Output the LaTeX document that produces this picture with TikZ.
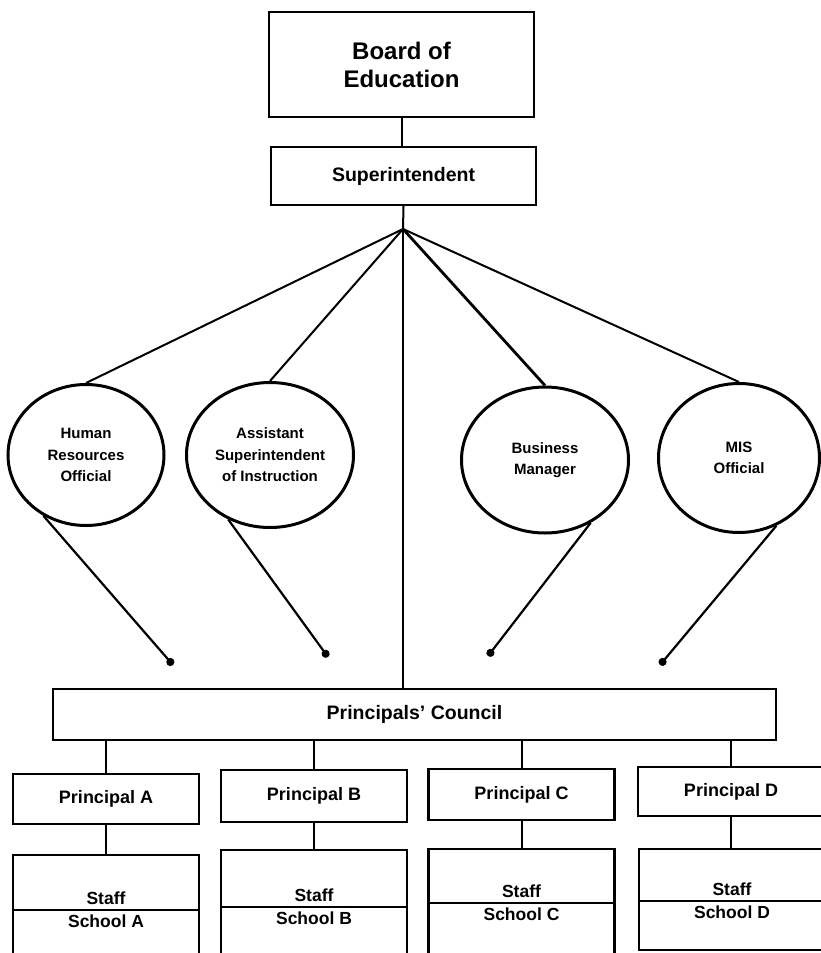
\documentclass[tikz,border=0pt]{standalone}
\usepackage{fontspec}
\setmainfont{Liberation Sans}
\usetikzlibrary{shapes.geometric,arrows.meta}
\begin{document}
\begin{tikzpicture}[x=1pt,y=-1pt,
  box/.style={draw, line width=2.2pt, rectangle, inner sep=0pt, font=\bfseries\fontsize{19.5}{23}\selectfont},
  pbox/.style={box, minimum width=186pt, font=\bfseries\fontsize{18}{21}\selectfont},
  oval/.style={draw, ellipse, line width=3pt, inner sep=0pt, align=center, font=\bfseries\fontsize{15}{21.5}\selectfont},
  link/.style={line width=2pt},
  feed/.style={line width=2.2pt, -{Circle[length=8pt,width=8pt]}},
  lbl/.style={inner sep=0pt, font=\bfseries\fontsize{17.5}{20}\selectfont}
]
\fill[white] (0,0) rectangle (821,953);
\clip (0,0) rectangle (821,953);

% top
\node[box, minimum width=265pt, minimum height=105pt, align=center,
      font=\bfseries\fontsize{24}{28}\selectfont] (board) at (401.5,64.5) {Board of\\Education};
\node[box, minimum width=265pt, minimum height=58pt] (super) at (403.5,176) {Superintendent};
\coordinate (hub) at (403,229);
\draw[link] (board.south) -- (board.south |- super.north);
\draw[link] (super.south) -- (hub);

% ovals
\node[oval, minimum width=156pt, minimum height=141pt] (hr) at (86,455) {Human\\Resources\\Official};
\node[oval, minimum width=167pt, minimum height=145pt] (asi) at (270,455) {Assistant\\Superintendent\\of Instruction};
\node[oval, minimum width=167pt, minimum height=146pt] (bm) at (545,460) {Business\\Manager};
\node[oval, minimum width=161pt, minimum height=149pt] (mis) at (739,458) {MIS\\Official};

\draw[link] (hub) -- (hr.north);
\draw[link] (hub) -- (asi.north);
\draw[line width=2.8pt] (hub) -- (bm.north);
\draw[link] (hub) -- (mis.north);

% council
\node[box, minimum width=723pt, minimum height=51pt] (council) at (414.5,714.5) {Principals' Council};
\draw[line width=1.6pt] (hub) -- (hub |- council.north);

% feeds with dot ends
\coordinate (dHR) at (173,665);
\coordinate (dAS) at (328,657);
\coordinate (dBM) at (488,656);
\coordinate (dMIS) at (660,665);
\draw[feed] (hr.235) -- (dHR);
\draw[feed] (asi.237) -- (dAS);
\draw[feed] (bm.306) -- (dBM);
\draw[feed] (mis.299) -- (dMIS);

% principals
\node[pbox, minimum height=50pt] (pA) at (106,799) {Principal A};
\node[pbox, minimum height=52pt] (pB) at (314,796) {Principal B};
\node[pbox, minimum height=51pt] (pC) at (521.5,794.5) {Principal C};
\node[pbox, minimum height=49pt] (pD) at (731,791.5) {Principal D};
\foreach \p in {pA,pB,pC,pD}
  \draw[link] (\p.north |- council.south) -- (\p.north);

% staff boxes
\node[pbox, minimum height=105pt] (sA) at (106,907.5) {};
\node[pbox, minimum height=110pt] (sB) at (314,905) {};
\node[pbox, minimum height=111pt] (sC) at (521.5,904.5) {};
\node[pbox, minimum height=101pt] (sD) at (732,899.5) {};
\draw[link] (pA) -- (sA);
\draw[link] (pB) -- (sB);
\draw[link] (pC) -- (sC);
\draw[link] (pD.south) -- (pD.south |- sD.north);

\coordinate (dvA) at (0,910);
\coordinate (dvB) at (0,907);
\coordinate (dvC) at (0,903);
\coordinate (dvD) at (0,901);
\draw[line width=1.8pt] (sA.west |- dvA) -- (sA.east |- dvA);
\draw[line width=1.8pt] (sB.west |- dvB) -- (sB.east |- dvB);
\draw[line width=1.8pt] (sC.west |- dvC) -- (sC.east |- dvC);
\draw[line width=1.8pt] (sD.west |- dvD) -- (sD.east |- dvD);

\node[lbl, anchor=base] (stA) at (106,904) {Staff};
\node[lbl, anchor=base] (scA) at (106,927) {School A};
\node[lbl, anchor=base] (stB) at (314,901) {Staff};
\node[lbl, anchor=base] (scB) at (314,924) {School B};
\node[lbl, anchor=base] (stC) at (521.5,897) {Staff};
\node[lbl, anchor=base] (scC) at (521.5,920) {School C};
\node[lbl, anchor=base] (stD) at (732,895) {Staff};
\node[lbl, anchor=base] (scD) at (732,918) {School D};
\end{tikzpicture}
\end{document}
